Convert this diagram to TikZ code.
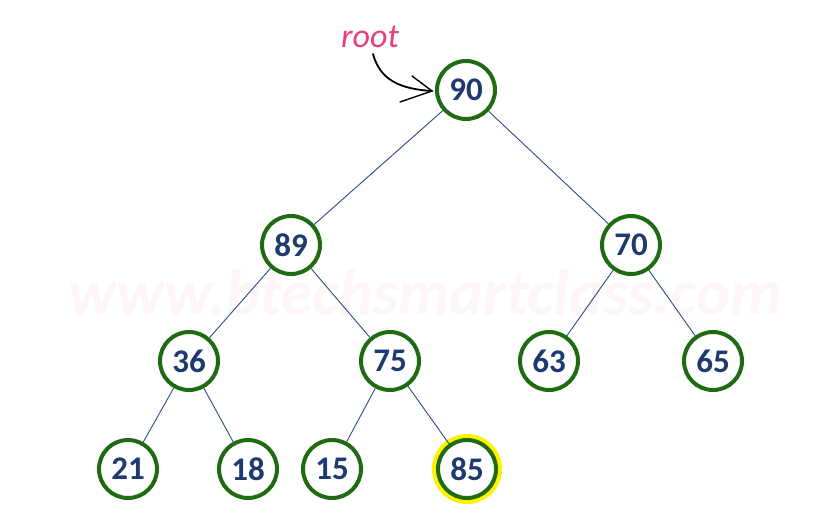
\documentclass[tikz,border=0pt]{standalone}
\usepackage{fontspec}
\setmainfont{Carlito}
\usetikzlibrary{arrows.meta}
\definecolor{ringgreen}{HTML}{1F6B12}
\definecolor{numblue}{HTML}{1E3A6E}
\definecolor{edgeblue}{HTML}{2E4A86}
\definecolor{rootpink}{HTML}{E8407E}
\definecolor{wmark}{HTML}{FDF5F6}
\tikzset{
  heapnode/.style={circle, draw=ringgreen, line width=4pt, minimum size=58pt, inner sep=0pt,
    fill=white, text=numblue, font=\fontsize{33}{33}\selectfont\bfseries},
  glow/.style={draw=yellow, line width=9pt},
  edge/.style={draw=edgeblue, line width=0.9pt}
}
\begin{document}
\begin{tikzpicture}[x=1pt,y=-1pt]
\fill[white] (0,0) rectangle (840,530);
\useasboundingbox (0,0) rectangle (840,530);
\node[text=wmark, font=\fontsize{64}{64}\selectfont\bfseries\itshape] (wm) at (425,292) {www.btechsmartclass.com};
% nodes
\node[heapnode] (n90) at (466,90) {90};
\node[heapnode] (n89) at (291,245) {89};
\node[heapnode] (n70) at (631,245) {70};
\node[heapnode] (n36) at (189,361) {36};
\node[heapnode] (n75) at (390,361) {75};
\node[heapnode] (n63) at (549,361) {63};
\node[heapnode] (n65) at (713,361) {65};
\node[heapnode] (n21) at (128,469) {21};
\node[heapnode] (n18) at (248,469) {18};
\node[heapnode] (n15) at (332,469) {15};
\draw[glow] (467,469) circle (30.5pt);
\node[heapnode] (n85) at (467,469) {85};
% edges
\draw[edge] (n90) -- (n89);
\draw[edge] (n90) -- (n70);
\draw[edge] (n89) -- (n36);
\draw[edge] (n89) -- (n75);
\draw[edge] (n70) -- (n63);
\draw[edge] (n70) -- (n65);
\draw[edge] (n36) -- (n21);
\draw[edge] (n36) -- (n18);
\draw[edge] (n75) -- (n15);
\draw[edge] (n75) -- (n85);
% root label
\node[text=rootpink, font=\fontsize{34}{34}\selectfont\itshape] (root) at (370,37) {root};
\coordinate (tip) at (432,91);
\draw[black, line width=1.8pt, line cap=round] (373,54) .. controls (380,80) and (400,89) .. (tip);
\draw[black, line width=1.4pt, line cap=round] (412,76) -- (tip) -- (400,102);
\end{tikzpicture}
\end{document}
